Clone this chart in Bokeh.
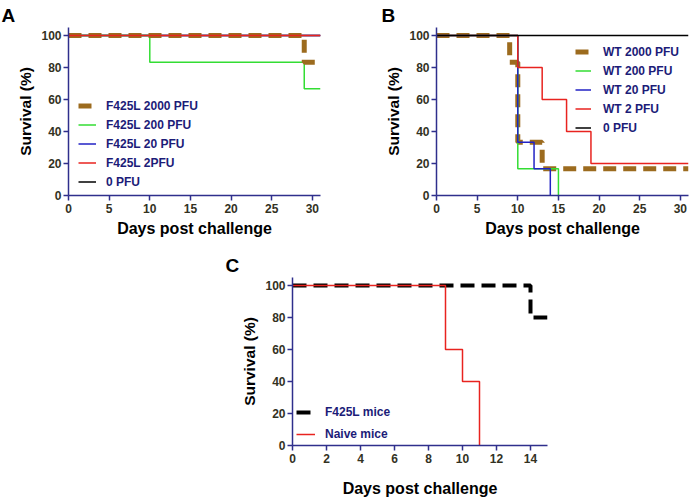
from bokeh.plotting import figure
from bokeh.models import Range1d, Legend, LegendItem, Title, FixedTicker, Spacer
from bokeh.layouts import column, row
from bokeh.embed import file_html
from bokeh.resources import INLINE

# ---------------- data ----------------
# Panel A (F425L)
a_labels = ["F425L 2000 PFU", "F425L 200 PFU", "F425L 20 PFU", "F425L 2PFU", "0 PFU"]
a_2000_days = [0, 29, 31]
a_2000_surv = [100, 83.3, 83.3]
a_200_days = [0, 10, 29, 31]
a_200_surv = [100, 83.3, 66.7, 66.7]
a_20_days = [0, 31]
a_20_surv = [100, 100]
a_2_days = [0, 31]
a_2_surv = [100, 100]
a_0_days = [0, 31]
a_0_surv = [100, 100]

# Panel B (WT)
b_labels = ["WT 2000 PFU", "WT 200 PFU", "WT 20 PFU", "WT 2 PFU", "0 PFU"]
b_2000_days = [0, 9, 10, 13, 31]
b_2000_surv = [100, 83.3, 33.3, 16.7, 16.7]
b_200_days = [0, 10, 15]
b_200_surv = [100, 16.7, 0]
b_20_days = [0, 10, 12, 14]
b_20_surv = [100, 33.3, 16.7, 0]
b_2_days = [0, 10, 13, 16, 19, 31]
b_2_surv = [100, 80, 60, 40, 20, 20]
b_0_days = [0, 31]
b_0_surv = [100, 100]

# Panel C
c_labels = ["F425L mice", "Naive mice"]
c_f425_days = [0, 14, 15]
c_f425_surv = [100, 80, 80]
c_naive_days = [0, 9, 10, 11]
c_naive_surv = [100, 60, 40, 0]

panel_names = ["A", "B", "C"]
y_ticks = [0, 20, 40, 60, 80, 100]
x_ticks_ab = [0, 5, 10, 15, 20, 25, 30]
x_ticks_c = [0, 2, 4, 6, 8, 10, 12, 14]

# ---------------- style ----------------
FONT = "Liberation Sans"
AXIS_COL = "#2f2f8c"
TICK_TXT = "#33321f"
LEG_TXT = "#1c1c78"
BROWN = "#9c6b1e"
GREEN = "#33dd33"
BLUE = "#2222c4"
RED = "#e8231f"
BLACK = "#000000"


def make_fig(w, h, xmax, left, right, top, bottom, xticks, letter, letter_offset):
    p = figure(width=w, height=h, output_backend="svg", toolbar_location=None,
               x_range=Range1d(0, xmax), y_range=Range1d(0, 105),
               min_border_left=left, min_border_right=right,
               min_border_top=top, min_border_bottom=bottom)
    p.title = Title(text=letter, text_font=FONT, text_font_style="bold",
                    text_font_size="19px", text_color=BLACK, align="left",
                    offset=letter_offset, standoff=4)
    p.outline_line_color = None
    p.grid.visible = False
    p.background_fill_color = "white"
    p.border_fill_color = "white"
    for ax in (p.xaxis[0], p.yaxis[0]):
        ax.axis_line_color = AXIS_COL
        ax.axis_line_width = 1.5
        ax.major_tick_line_color = AXIS_COL
        ax.major_tick_line_width = 1.5
        ax.major_tick_out = 5
        ax.major_tick_in = 0
        ax.minor_tick_line_color = None
        ax.major_label_text_font = FONT
        ax.major_label_text_font_style = "bold"
        ax.major_label_text_font_size = "12px"
        ax.major_label_text_color = TICK_TXT
        ax.axis_label_text_font = FONT
        ax.axis_label_text_font_style = "bold"
        ax.axis_label_text_color = BLACK
    p.xaxis[0].ticker = FixedTicker(ticks=xticks)
    p.yaxis[0].ticker = FixedTicker(ticks=y_ticks)
    p.xaxis[0].axis_label = "Days post challenge"
    p.yaxis[0].axis_label = "Survival (%)"
    p.xaxis[0].axis_label_text_font_size = "16px"
    p.yaxis[0].axis_label_text_font_size = "15.5px"
    p.xaxis[0].major_label_standoff = 3
    p.yaxis[0].major_label_standoff = 2
    p.xaxis[0].axis_label_standoff = 4
    p.yaxis[0].axis_label_standoff = 4
    return p


def make_legend(items, x, y, glyph_w, row_h, standoff):
    leg = Legend(items=items, location=(x, y), padding=0, margin=0, spacing=0,
                 glyph_width=glyph_w, glyph_height=row_h, label_height=row_h,
                 label_standoff=standoff, border_line_alpha=0,
                 background_fill_alpha=0, label_text_font=FONT,
                 label_text_font_style="bold", label_text_font_size="12px",
                 label_text_color=LEG_TXT)
    return leg


# ---------------- Panel A ----------------
pA = make_fig(345, 250, 31, 68, 25, 27, 54, x_ticks_ab, panel_names[0], -67)
rA0 = pA.step(a_0_days, a_0_surv, mode="after", line_color=BLACK, line_width=1.5)
rA20 = pA.step(a_20_days, a_20_surv, mode="after", line_color=BLUE, line_width=1.5)
rA200 = pA.step(a_200_days, a_200_surv, mode="after", line_color=GREEN, line_width=1.5)
rA2000 = pA.step(a_2000_days, a_2000_surv, mode="after", line_color=BROWN, line_width=5,
                 line_dash="13 7")
rA2 = pA.step(a_2_days, a_2_surv, mode="after", line_color=RED, line_width=1.5)
legA = make_legend([LegendItem(label=a_labels[0], renderers=[rA2000]),
                    LegendItem(label=a_labels[1], renderers=[rA200]),
                    LegendItem(label=a_labels[2], renderers=[rA20]),
                    LegendItem(label=a_labels[3], renderers=[rA2]),
                    LegendItem(label=a_labels[4], renderers=[rA0])],
                   10, 4, 18, 19, 10)
pA.add_layout(legA)

# ---------------- Panel B ----------------
pB = make_fig(344, 250, 31, 91, 1, 27, 55, x_ticks_ab, panel_names[1], -55)
rB2000 = pB.step(b_2000_days, b_2000_surv, mode="after", line_color=BROWN, line_width=5,
                 line_dash="13 7")
rB200 = pB.step(b_200_days, b_200_surv, mode="after", line_color=GREEN, line_width=1.5)
rB20 = pB.step(b_20_days, b_20_surv, mode="after", line_color=BLUE, line_width=1.5)
rB2 = pB.step(b_2_days, b_2_surv, mode="after", line_color=RED, line_width=1.5)
rB0 = pB.step(b_0_days, b_0_surv, mode="after", line_color=BLACK, line_width=1.5)
legB = make_legend([LegendItem(label=b_labels[0], renderers=[rB2000]),
                    LegendItem(label=b_labels[1], renderers=[rB200]),
                    LegendItem(label=b_labels[2], renderers=[rB20]),
                    LegendItem(label=b_labels[3], renderers=[rB2]),
                    LegendItem(label=b_labels[4], renderers=[rB0])],
                   139, 58, 16, 19, 12)
pB.add_layout(legB)

# ---------------- Panel C ----------------
pC = make_fig(360, 249, 15, 92, 13, 26, 53, x_ticks_c, panel_names[2], -67)
pC.xaxis[0].axis_label_standoff = 14
rC1 = pC.step(c_f425_days, c_f425_surv, mode="after", line_color=BLACK, line_width=4,
              line_dash="14 7")
rC2 = pC.step(c_naive_days, c_naive_surv, mode="after", line_color=RED, line_width=1.5)
legC = make_legend([LegendItem(label=c_labels[0], renderers=[rC1]),
                    LegendItem(label=c_labels[1], renderers=[rC2])],
                   4, 0, 19, 22, 10)
pC.add_layout(legC)

layout = column(row(pA, pB), row(Spacer(width=200, height=249), pC))

open("out.html", "w").write(file_html(layout, INLINE))
